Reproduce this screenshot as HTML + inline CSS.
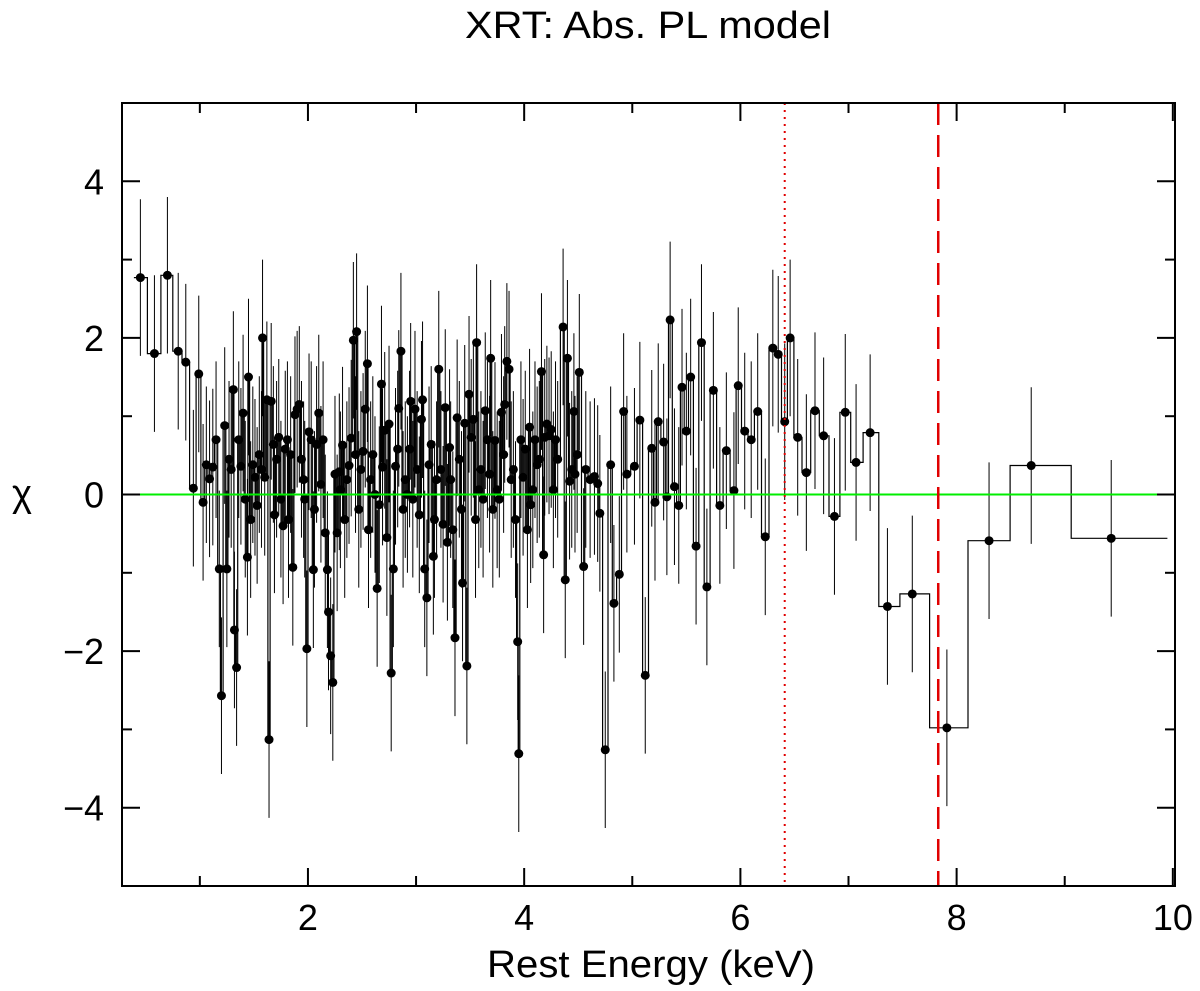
<!DOCTYPE html>
<html><head><meta charset="utf-8"><style>
html,body{margin:0;padding:0;background:#fff;}
svg{display:block;font-family:"Liberation Sans",sans-serif;}
</style></head><body>
<svg id="chart" width="1200" height="991" viewBox="0 0 1200 991">
<text x="648" y="38" font-size="38" text-anchor="middle" textLength="366" lengthAdjust="spacingAndGlyphs">XRT: Abs. PL model</text>
<text x="651" y="977" font-size="38" text-anchor="middle" textLength="328" lengthAdjust="spacingAndGlyphs">Rest Energy (keV)</text>
<text x="22" y="506" font-size="38" text-anchor="middle">χ</text>
<g id="plot"></g>
</svg>
<script>
const energies=[0.45,0.58,0.70,0.80,0.87,0.94,0.99,1.03,1.06,1.09,1.12,1.15,1.18,1.20,1.23,1.25,1.27,1.29,1.31,1.32,1.34,1.36,1.38,1.40,1.42,1.44,1.45,1.47,1.49,1.51,1.53,1.55,1.57,1.58,1.60,1.62,1.64,1.66,1.68,1.69,1.71,1.73,1.75,1.77,1.79,1.81,1.82,1.84,1.86,1.88,1.90,1.92,1.94,1.96,1.97,1.99,2.01,2.03,2.05,2.06,2.08,2.10,2.12,2.14,2.16,2.18,2.19,2.21,2.23,2.25,2.27,2.29,2.30,2.32,2.34,2.36,2.38,2.40,2.42,2.44,2.45,2.47,2.49,2.51,2.53,2.55,2.56,2.58,2.60,2.62,2.64,2.66,2.68,2.69,2.71,2.73,2.75,2.77,2.79,2.81,2.83,2.84,2.86,2.88,2.90,2.92,2.94,2.95,2.97,2.99,3.01,3.03,3.05,3.06,3.08,3.10,3.12,3.14,3.16,3.17,3.19,3.21,3.23,3.25,3.27,3.29,3.31,3.32,3.34,3.36,3.38,3.40,3.42,3.43,3.45,3.47,3.49,3.51,3.53,3.55,3.56,3.58,3.60,3.62,3.64,3.66,3.68,3.69,3.71,3.73,3.75,3.77,3.79,3.81,3.82,3.84,3.86,3.88,3.90,3.92,3.94,3.95,3.97,3.99,4.01,4.03,4.05,4.06,4.08,4.10,4.12,4.14,4.16,4.18,4.19,4.21,4.23,4.25,4.27,4.29,4.31,4.36,4.38,4.40,4.42,4.44,4.46,4.47,4.49,4.51,4.55,4.57,4.61,4.65,4.68,4.70,4.75,4.80,4.83,4.88,4.92,4.95,5.02,5.07,5.12,5.18,5.21,5.24,5.29,5.32,5.35,5.39,5.43,5.46,5.50,5.54,5.59,5.64,5.69,5.75,5.81,5.87,5.94,5.98,6.04,6.10,6.16,6.23,6.30,6.35,6.41,6.46,6.53,6.61,6.69,6.77,6.87,6.97,7.07,7.20,7.36,7.59,7.91,8.30,8.69,9.43];
const chiValues=[2.77,1.8,2.8,1.83,1.69,0.08,1.54,-0.1,0.38,0.2,0.35,0.7,-0.95,-2.57,0.88,-0.95,0.45,0.32,1.34,-1.73,-2.21,0.7,0.36,1.04,-0.06,-0.8,1.5,-0.32,0.38,0.22,-0.14,0.51,0.32,2.0,0.22,1.21,-3.13,1.19,0.64,-0.26,0.45,0.73,-0.06,-0.4,0.58,0.7,-0.32,0.51,-0.93,1.02,1.09,1.15,0.45,0.19,-0.06,-1.97,0.8,0.7,-0.96,-0.19,0.64,1.04,0.13,0.7,-0.49,-0.96,-1.5,-2.06,-2.4,0.26,-0.49,0.29,0.06,0.63,-0.32,0.19,0.37,0.72,1.97,0.51,2.08,-0.19,0.32,0.55,1.09,1.67,-0.45,0.19,0.51,0,-1.2,-0.13,1.41,0.35,0.82,-0.55,0.9,-2.28,-0.95,0.36,0.58,1.1,1.83,-0.19,0.19,0,0.58,1.19,-0.06,1.09,0.32,-0.26,0.96,1.21,-0.95,-1.32,0.38,0.64,-0.79,-0.32,0.19,1.6,0.32,-0.38,1.11,-0.61,0.6,0.19,-0.45,-1.83,0.98,0.45,-0.19,-1.13,0.91,-2.19,1.28,0.73,0.96,-0.32,1.94,0.06,0.32,-0.06,1.07,0.7,0.26,1.74,-0.19,0.69,0.06,-0.06,1.05,0.51,1.15,1.7,1.6,0.19,0.32,-0.32,-1.88,-3.31,0.7,0.22,0.58,-0.45,0.86,-0.13,0.06,0.7,0.38,0.45,1.57,-0.77,0.73,0.9,0.75,0.83,0.06,0.7,0.45,2.14,-1.09,1.74,0.17,0.32,1.06,0.26,0.51,1.56,-0.92,0.32,0.19,0.23,0.14,-0.24,-3.26,0.38,-1.39,-1.02,1.06,0.26,0.36,0.95,-2.31,0.59,-0.1,0.93,0.67,-0.03,2.23,0.1,-0.14,1.37,0.81,1.5,-0.66,1.94,-1.18,1.33,-0.14,0.56,0.05,1.39,0.81,0.7,1.06,-0.54,1.87,1.79,0.93,2.0,0.73,0.28,1.07,0.75,-0.28,1.05,0.41,0.79,-1.43,-1.27,-2.98,-0.59,0.37,-0.56];
const chiErrors=energies.map(()=>1.0);
const xTicks=[2,4,6,8,10];
const yTicks=[-4,-2,0,2,4];
const lineEnergyDotted=6.41, lineEnergyDashed=7.83;

const L=122,R=1175,T=103,B=886;
const X0=0.28,X1=10.02,Y0=-5.0,Y1=5.0;
const sx=v=>L+(v-X0)/(X1-X0)*(R-L);
const sy=v=>B-(v-Y0)/(Y1-Y0)*(B-T);
const NS="http://www.w3.org/2000/svg";
const g=document.getElementById('plot');
function mk(tag,attrs){const e=document.createElementNS(NS,tag);for(const k in attrs)e.setAttribute(k,attrs[k]);g.appendChild(e);return e;}

const edges=[energies[0]-0.06];
for(let i=0;i<energies.length-1;i++)edges.push((energies[i]+energies[i+1])/2);
edges.push(9.95);
let d='';
for(let i=0;i<energies.length;i++){
  const y=sy(chiValues[i]);
  d+=(i===0?'M':'L')+sx(edges[i]).toFixed(1)+','+y.toFixed(1)+'L'+sx(edges[i+1]).toFixed(1)+','+y.toFixed(1);
}
const step=mk('path',{d:d,fill:'none',stroke:'#000','stroke-width':1.2});



for(let i=0;i<energies.length;i++){
  const x=sx(energies[i]);
  const eb=mk('line',{x1:x,x2:x,y1:sy(chiValues[i]+chiErrors[i]),y2:sy(chiValues[i]-chiErrors[i]),stroke:'#000','stroke-width':1});
  
  
  const c=mk('circle',{cx:x,cy:sy(chiValues[i]),r:4.5,fill:'#000'});
  
  
}

const z=mk('line',{x1:L,x2:R,y1:sy(0),y2:sy(0),stroke:'#00ee00','stroke-width':2});



const v1=mk('line',{x1:sx(lineEnergyDotted),x2:sx(lineEnergyDotted),y1:T,y2:B,stroke:'#e00000','stroke-width':2,'stroke-dasharray':'2,5'});


const v2=mk('line',{x1:sx(lineEnergyDashed),x2:sx(lineEnergyDashed),y1:T,y2:B,stroke:'#e00000','stroke-width':2.5,'stroke-dasharray':'22,10'});



const fr=mk('rect',{x:L,y:T,width:R-L,height:B-T,fill:'none',stroke:'#000','stroke-width':2});



for(let v=1;v<=10;v++){
  const x=sx(v),len=(v%2===0)?18:10;
  const t1=mk('line',{x1:x,x2:x,y1:B,y2:B-len,stroke:'#000','stroke-width':2});
  
  
  const t2=mk('line',{x1:x,x2:x,y1:T,y2:T+len,stroke:'#000','stroke-width':2});
  
  
}
xTicks.forEach(v=>{
  const t=mk('text',{x:sx(v),y:930,'font-size':36,'text-anchor':'middle'});
  t.textContent=v;
  
  
});
for(let v=-4;v<=4;v++){
  const y=sy(v),len=(v%2===0)?18:10;
  const t1=mk('line',{x1:L,x2:L+len,y1:y,y2:y,stroke:'#000','stroke-width':2});
  
  
  const t2=mk('line',{x1:R,x2:R-len,y1:y,y2:y,stroke:'#000','stroke-width':2});
  
  
}
yTicks.forEach(v=>{
  const t=mk('text',{x:104,y:sy(v)+13,'font-size':36,'text-anchor':'end'});
  t.textContent=v<0?'\u2212'+Math.abs(v):String(v);
  
  
});
</script>
</body></html>
